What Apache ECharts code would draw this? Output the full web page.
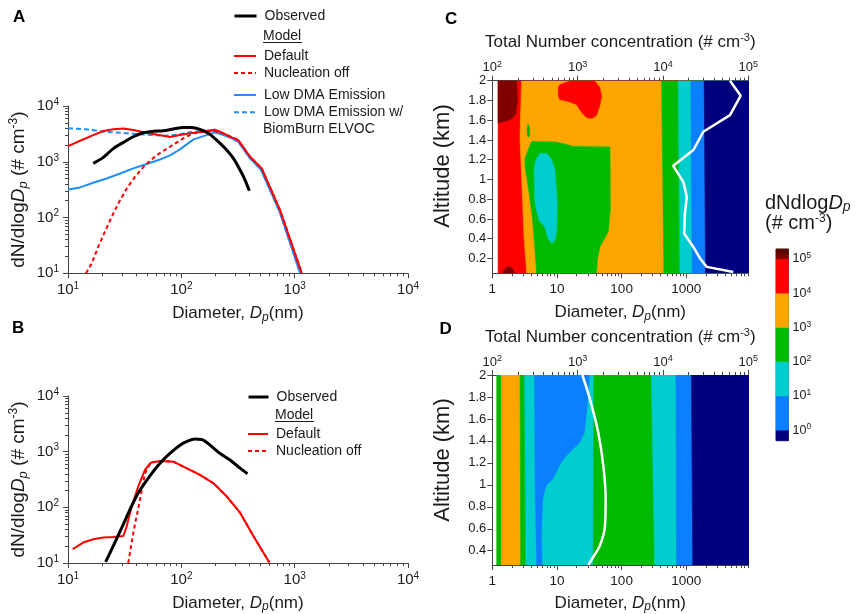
<!DOCTYPE html>
<html><head><meta charset="utf-8">
<script src="https://cdn.jsdelivr.net/npm/echarts@6/dist/echarts.min.js"></script>
<style>html,body{margin:0;padding:0;background:#fff}#c{width:861px;height:614px}</style>
</head><body><div id="c"></div>
<script>
// ---------------- DATA ----------------
// Panel A: [diameter nm, dN/dlogDp]
const A_observed = [[16.7,935],[20.5,1200],[25.1,1720],[30.8,2230],[37.7,2810],[46.2,3320],[56.6,3520],[69.3,3600],[84.9,3870],[104,4100],[123,4100],[146,3820],[173,3240],[205,2450],[243,1740],[288,1150],[330,710],[365,470],[398,302]];
const A_default = [[10,1910],[12.8,2380],[16.7,3010],[20.5,3560],[25.1,3820],[30.8,3950],[37.7,3700],[46.2,3370],[56.6,3140],[69.3,2930],[79.4,2780],[97.3,3010],[119,3230],[146,3410],[173,3600],[198,3750],[235,3240],[279,2740],[318,2450],[404,1230],[512,760],[743,136],[1156,10]];
const A_nucleationOff = [[14.4,10],[16.2,15.1],[18.5,30],[21.2,56],[24.3,103],[27.8,179],[33,333],[39,537],[47.8,871],[60.7,1320],[79.4,1860],[104,2630],[128,3240],[156,3460],[191,3600],[235,3240],[279,2740],[318,2450],[404,1230],[512,760],[743,136],[1156,10]];
const A_lowDMA = [[10,319],[12.8,347],[16.7,420],[21.9,502],[28.8,617],[37.7,760],[49.4,910],[64.8,1100],[79.4,1300],[97.3,1670],[128,2520],[167,3010],[198,3370],[235,3010],[279,2630],[318,2300],[404,1150],[505,720],[740,125],[1117,10]];
const A_lowDMAelvoc = [[10,3980],[14.6,3820],[20.5,3460],[28.8,3320],[40.4,3140],[56.6,3010],[74.3,2930],[91,3050],[119,3370],[156,3600],[191,3600],[235,3150],[279,2630],[318,2300],[404,1150],[505,720],[740,125],[1117,10]];
// Panel B
const B_observed = [[21.5,10.5],[25.1,20.3],[29.8,43],[35.2,91],[41.7,181],[51.1,335],[64.8,620],[79.4,933],[97.3,1310],[115,1560],[132,1680],[151,1660],[179,1310],[219,933],[269,708],[330,505],[383,400]];
const B_default = [[11,17.8],[13.6,23.3],[16.7,26.7],[20.5,28.6],[25.1,29.4],[30.8,30.6],[33,46],[36.5,105],[41.7,237],[47.8,471],[53.7,635],[64.8,681],[84.9,661],[111,505],[146,384],[191,273],[251,158],[330,80],[432,30.6],[598,10.2]];
const B_nucleationOff = [[34,10],[37.7,35],[43.2,138],[47.8,411],[53.7,635],[64.8,681],[84.9,661],[111,505],[146,384],[191,273],[251,158],[330,80],[432,30.6],[598,10.2]];
// Tick label values
const AB_majorTicks = [10, 100, 1000, 10000];
const CD_diamTicks = [1, 10, 100, 1000];
const CD_totalTicks = [100, 1000, 10000, 100000];
const C_altTicks = [0.2,0.4,0.6,0.8,1.0,1.2,1.4,1.6,1.8,2.0];
const D_altTicks = [0.4,0.6,0.8,1.0,1.2,1.4,1.6,1.8,2.0];
const CB_ticks = [1, 10, 100, 1000, 10000, 100000];
// Contour levels: -1 <1, 0: 1-10, 1: 10-100, 2: 1e2-1e3, 3: 1e3-1e4, 4: 1e4-1e5, 5: >1e5
const LEVEL_COLORS = {'-1':'#00007F','0':'#0A80FF','1':'#00CDCD','2':'#00BA00','3':'#FFA500','4':'#FF0000','5':'#800000','6':'#5C0000'};
// Panel C: band left edges [diameter nm, altitude km] (top -> bottom), filled to the right
const C_bandLevels = [4, 3, 2, 1, 0, -1];
const C_bandEdges = [
  [[1.23,2],[1.23,0.05]],
  [[2.84,2],[2.68,1.43],[2.95,0.757],[3.09,0.42],[3.32,0.15],[3.40,0.05]],
  [[415,2],[451,0.05]],
  [[750,2],[796,0.05]],
  [[1178,2],[1233,0.05]],
  [[1892,2],[1986,0.05]]
];
const C_blobLevels = [2, 1, 2, 5, 5, 4];
const C_blobs = [
  [[4.06,1.385],[9.5,1.38],[13,1.36],[18,1.335],[66,1.33],[67,0.7],[62,0.47],[52,0.38],[46,0.317],[42,0.18],[41,0.05],[4.85,0.05],[4.57,0.284],[4.21,0.588],[3.6,0.925],[3.2,1.13],[3.2,1.213],[3.6,1.3]],
  [[5.46,1.264],[6.93,1.264],[8.3,1.2],[9.3,1.095],[10.1,0.757],[9.9,0.487],[9.3,0.385],[8.3,0.352],[7.3,0.403],[6.5,0.52],[5.3,0.588],[4.57,0.757],[4.4,1.095],[4.7,1.196]],
  [[3.55,1.56],[3.75,1.53],[3.8,1.48],[3.7,1.43],[3.5,1.44],[3.45,1.5]],
  [[1.23,2],[2.38,2],[2.45,1.8],[2.3,1.66],[2.0,1.615],[1.6,1.59],[1.23,1.57]],
  [[1.45,0.05],[1.55,0.095],[1.8,0.12],[2.05,0.1],[2.25,0.05]],
  [[10.5,1.93],[11.1,1.96],[14,1.985],[17,2.0],[38,2.0],[46,1.93],[49,1.84],[46,1.75],[41,1.65],[35,1.62],[29,1.625],[24,1.68],[20,1.76],[15,1.79],[11,1.81],[10.5,1.85]]
];
// Panel D
const D_bandLevels = [2, 3, 2, 1, 0, 1, 2, 1, 0, -1];
const D_bandEdges = [
  [[1.17,2],[1.17,0.27]],
  [[1.38,2],[1.38,0.27]],
  [[2.69,2],[2.75,0.27]],
  [[3.15,2],[3.3,0.27]],
  [[4.5,2],[4.6,1.0],[4.75,0.6],[4.85,0.27]],
  [[32.4,2],[30.5,1.774],[27.1,1.474],[22.7,1.383],[14.1,1.263],[11.8,1.203],[8.8,1.052],[6.9,0.992],[6.15,0.872],[5.86,0.571],[6.0,0.27]],
  [[37.3,2],[36.4,0.27]],
  [[288,2],[324,0.27]],
  [[692,2],[708,0.27]],
  [[1202,2],[1259,0.27]]
];
// Total number concentration profiles [# cm-3, altitude km]
const C_total = [[66700,0.064],[32600,0.115],[27200,0.2],[22700,0.317],[17700,0.453],[18100,0.656],[19000,0.824],[17300,0.976],[13200,1.138],[22700,1.298],[29700,1.483],[61000,1.652],[81500,1.848],[61000,2.0]];
const D_total = [[1333,0.27],[1530,0.345],[1830,0.45],[2095,0.631],[2130,0.872],[2000,1.172],[1745,1.474],[1400,1.774],[1135,2.0]];
// Colour bar ranges
const CB_ranges = [[0.49,1],[1,10],[10,100],[100,1000],[1000,10000],[10000,100000],[100000,140000],[140000,195000]];
const CB_levels = [-1, 0, 1, 2, 3, 4, 5, 6];

// ---------------- HELPERS ----------------
const FONT = '"Liberation Sans", Arial, Helvetica, sans-serif';
const INK = '#1a1a1a';
const AX = '#444';
const XMAX = 9100;
function minorVals(lo, hi) { const out = []; for (let d = lo; d < hi; d *= 10) for (let m = 2; m <= 9; m++) { const v = d * m; if (v < hi) out.push(v); } return out; }
const supFmt = v => '10{sup|' + Math.round(Math.log10(v)) + '}';
const supRich = fs => ({ sup: { fontSize: fs, verticalAlign: 'top', lineHeight: fs } });
const titleRich = fs => ({
  i: { fontStyle: 'italic', fontSize: fs, lineHeight: fs + 3 },
  sub: { fontStyle: 'italic', fontSize: Math.round(fs * 0.68), verticalAlign: 'bottom', lineHeight: Math.round(fs * 0.68) },
  sup: { fontSize: Math.round(fs * 0.62), verticalAlign: 'top', lineHeight: Math.round(fs * 0.62) }
});
function majorAxis(o) {
  return Object.assign({
    splitLine: { show: false },
    axisLine: { show: true, lineStyle: { color: AX, width: 1 } },
    axisTick: { show: true, length: 5, customValues: o.ticks, lineStyle: { color: AX } },
    axisLabel: { customValues: o.ticks, formatter: o.fmt, fontSize: o.fs, lineHeight: o.fs + 3, color: INK, margin: o.margin, rich: supRich(Math.round(o.fs * 0.66)), fontFamily: FONT },
    nameLocation: 'middle',
    nameTextStyle: Object.assign({ fontSize: o.nfs, lineHeight: o.nfs + 3, color: INK, fontFamily: FONT, rich: titleRich(o.nfs) }, o.nameStyle || {})
  }, o.base);
}
function minorAxis(base, vals) {
  return Object.assign({
    splitLine: { show: false }, axisLine: { show: false }, axisLabel: { show: false },
    axisTick: { show: true, length: 3, customValues: vals, lineStyle: { color: AX } }
  }, base);
}
function bandPolys(edges) { return edges.map(e => e.concat([[XMAX * 3, e[e.length - 1][1]], [XMAX * 3, e[0][1]]])); }
function contourSeries(polys, levels, xi, yi) {
  return {
    type: 'custom', xAxisIndex: xi, yAxisIndex: yi, clip: true, silent: true,
    data: polys.map(p => [p[0][0], p[0][1]]),
    encode: { x: 0, y: 1 },
    renderItem: function (params, api) {
      const i = params.dataIndex;
      const col = LEVEL_COLORS[String(levels[i])];
      return { type: 'polygon', shape: { points: polys[i].map(p => api.coord(p)) }, style: { fill: col, stroke: col, lineWidth: 0.6 } };
    }
  };
}
const C_polys = bandPolys(C_bandEdges).concat(C_blobs);
const C_levels = C_bandLevels.concat(C_blobLevels);
const D_polys = bandPolys(D_bandEdges);
const D_levels = D_bandLevels;

const lineBase = { type: 'line', symbol: 'none', showSymbol: false, animation: false };
const RED = '#FF0000', BLUE = '#1F8FFF';
const ELVOC = 'Low DMA Emission w/ BiomBurn ELVOC';

const chart = echarts.init(document.getElementById('c'), null, { renderer: 'canvas' });
const diamName = 'Diameter, {i|D}{sub|p}(nm)';
const dndName = 'dN/dlog{i|D}{sub|p} (# cm{sup|-3})';
const totName = 'Total Number concentration (# cm{sup|-3})';
function lg(left, top, w, names, lw, extra) {
  return Object.assign({ left: left, top: top, orient: 'vertical', padding: 0, itemGap: 3, itemWidth: w, itemHeight: 14, selectedMode: false,
    itemStyle: { opacity: 0 }, lineStyle: { width: lw }, data: names, textStyle: { fontSize: 14, color: INK, padding: [0, 0, 0, 3] } }, extra || {});
}

const option = {
  animation: false,
  textStyle: { fontFamily: FONT, color: INK },
  grid: [
    { left: 68, top: 106, width: 340, height: 167.3 },
    { left: 68, top: 396, width: 340, height: 169 },
    { left: 492.3, top: 80.7, width: 256, height: 192.6 },
    { left: 492.3, top: 375, width: 256, height: 191.7 },
    { left: 776, top: 249, width: 12.5, height: 191.7, show: true, borderColor: '#666', borderWidth: 1 }
  ],
  xAxis: [
    majorAxis({ base: { type: 'log', gridIndex: 0, position: 'bottom', min: 10, max: 10000, name: diamName, nameGap: 30 }, ticks: AB_majorTicks, fmt: supFmt, fs: 15, margin: 8, nfs: 17 }),
    minorAxis({ type: 'log', gridIndex: 0, position: 'bottom', min: 10, max: 10000 }, minorVals(10, 10000)),
    majorAxis({ base: { type: 'log', gridIndex: 1, position: 'bottom', min: 10, max: 10000, name: diamName, nameGap: 30 }, ticks: AB_majorTicks, fmt: supFmt, fs: 15, margin: 8, nfs: 17 }),
    minorAxis({ type: 'log', gridIndex: 1, position: 'bottom', min: 10, max: 10000 }, minorVals(10, 10000)),
    majorAxis({ base: { type: 'log', gridIndex: 2, position: 'bottom', min: 1, max: XMAX, name: diamName, nameGap: 29 }, ticks: CD_diamTicks, fmt: v => String(v), fs: 13.5, margin: 8, nfs: 17 }),
    minorAxis({ type: 'log', gridIndex: 2, position: 'bottom', min: 1, max: XMAX }, minorVals(1, XMAX)),
    majorAxis({ base: { type: 'log', gridIndex: 2, position: 'top', min: 100, max: 100000, name: totName, nameGap: 28 }, ticks: CD_totalTicks, fmt: supFmt, fs: 13, margin: 5, nfs: 17 }),
    minorAxis({ type: 'log', gridIndex: 2, position: 'top', min: 100, max: 100000 }, minorVals(100, 100000)),
    majorAxis({ base: { type: 'log', gridIndex: 3, position: 'bottom', min: 1, max: XMAX, name: diamName, nameGap: 28 }, ticks: CD_diamTicks, fmt: v => String(v), fs: 13.5, margin: 8, nfs: 17 }),
    minorAxis({ type: 'log', gridIndex: 3, position: 'bottom', min: 1, max: XMAX }, minorVals(1, XMAX)),
    majorAxis({ base: { type: 'log', gridIndex: 3, position: 'top', min: 100, max: 100000, name: totName, nameGap: 28 }, ticks: CD_totalTicks, fmt: supFmt, fs: 13, margin: 5, nfs: 17 }),
    minorAxis({ type: 'log', gridIndex: 3, position: 'top', min: 100, max: 100000 }, minorVals(100, 100000)),
    { type: 'value', gridIndex: 4, min: 0, max: 1, show: false }
  ],
  yAxis: [
    majorAxis({ base: { type: 'log', gridIndex: 0, position: 'left', min: 10, max: 10000, name: dndName, nameGap: 38 }, ticks: AB_majorTicks, fmt: supFmt, fs: 15, margin: 9, nfs: 19 }),
    minorAxis({ type: 'log', gridIndex: 0, position: 'left', min: 10, max: 10000 }, minorVals(10, 10000)),
    majorAxis({ base: { type: 'log', gridIndex: 1, position: 'left', min: 10, max: 10000, name: dndName, nameGap: 38 }, ticks: AB_majorTicks, fmt: supFmt, fs: 15, margin: 9, nfs: 19 }),
    minorAxis({ type: 'log', gridIndex: 1, position: 'left', min: 10, max: 10000 }, minorVals(10, 10000)),
    majorAxis({ base: { type: 'value', gridIndex: 2, position: 'left', min: 0.05, max: 2, name: 'Altitude (km)', nameGap: 37 }, ticks: C_altTicks, fmt: v => String(+(+v).toFixed(1)), fs: 13, margin: 6, nfs: 22, nameStyle: { padding: [0, 0, 0, 22] } }),
    majorAxis({ base: { type: 'value', gridIndex: 3, position: 'left', min: 0.27, max: 2, name: 'Altitude (km)', nameGap: 37 }, ticks: D_altTicks, fmt: v => String(+(+v).toFixed(1)), fs: 13, margin: 6, nfs: 22, nameStyle: { padding: [0, 0, 0, 20] } }),
    { type: 'log', gridIndex: 4, position: 'right', min: 0.49, max: 195000,
      axisLine: { show: false }, axisTick: { show: false }, splitLine: { show: false },
      axisLabel: { customValues: CB_ticks, formatter: supFmt, fontSize: 12.5, lineHeight: 15, color: INK, margin: 4, rich: supRich(8.5) } }
  ],
  legend: [
    lg(233, 9, 22, ['Observed'], 3),
    lg(233, 49, 22, ['Default', 'Nucleation off'], 2),
    lg(233, 88, 22, ['Low DMA Emission'], 2),
    lg(233, 105.3, 22, [ELVOC], 2, { formatter: () => 'Low DMA Emission w/' }),
    lg(247, 390, 20, ['Observed'], 3),
    lg(247, 427, 20, ['Default', 'Nucleation off'], 2)
  ],
  graphic: [
    { type: 'text', x: 13, y: 17.5, style: { text: 'A', fontSize: 17, fontWeight: 'bold', fill: '#000', verticalAlign: 'middle', fontFamily: FONT } },
    { type: 'text', x: 12, y: 328, style: { text: 'B', fontSize: 17, fontWeight: 'bold', fill: '#000', verticalAlign: 'middle', fontFamily: FONT } },
    { type: 'text', x: 445, y: 19, style: { text: 'C', fontSize: 17, fontWeight: 'bold', fill: '#000', verticalAlign: 'middle', fontFamily: FONT } },
    { type: 'text', x: 439.5, y: 329, style: { text: 'D', fontSize: 17, fontWeight: 'bold', fill: '#000', verticalAlign: 'middle', fontFamily: FONT } },
    { type: 'text', x: 263, y: 36, style: { text: 'Model', fontSize: 14, fill: INK, verticalAlign: 'middle', fontFamily: FONT } },
    { type: 'line', shape: { x1: 263, y1: 42.5, x2: 302, y2: 42.5 }, style: { stroke: INK, lineWidth: 1 } },
    { type: 'text', x: 263, y: 129.3, style: { text: 'BiomBurn ELVOC', fontSize: 14, fill: INK, verticalAlign: 'middle', fontFamily: FONT } },
    { type: 'text', x: 275, y: 415, style: { text: 'Model', fontSize: 14, fill: INK, verticalAlign: 'middle', fontFamily: FONT } },
    { type: 'line', shape: { x1: 275, y1: 421.5, x2: 314, y2: 421.5 }, style: { stroke: INK, lineWidth: 1 } },
    { type: 'text', x: 765, y: 203, style: { text: 'dNdlog{i|D}{sub|p}', fontSize: 20, fill: INK, verticalAlign: 'middle', fontFamily: FONT, rich: titleRich(20) } },
    { type: 'text', x: 765, y: 223, style: { text: '(# cm{sup|-3})', fontSize: 20, fill: INK, verticalAlign: 'middle', fontFamily: FONT, rich: titleRich(20) } }
  ],
  series: [
    Object.assign({}, lineBase, { name: ELVOC, xAxisIndex: 0, yAxisIndex: 0, data: A_lowDMAelvoc, color: BLUE, lineStyle: { color: BLUE, width: 2, type: [5, 3] } }),
    Object.assign({}, lineBase, { name: 'Low DMA Emission', xAxisIndex: 0, yAxisIndex: 0, data: A_lowDMA, color: BLUE, lineStyle: { color: BLUE, width: 2 } }),
    Object.assign({}, lineBase, { name: 'Nucleation off', xAxisIndex: 0, yAxisIndex: 0, data: A_nucleationOff, color: RED, lineStyle: { color: RED, width: 2, type: [4, 3] } }),
    Object.assign({}, lineBase, { name: 'Default', xAxisIndex: 0, yAxisIndex: 0, data: A_default, color: RED, lineStyle: { color: RED, width: 2 } }),
    Object.assign({}, lineBase, { name: 'Observed', xAxisIndex: 0, yAxisIndex: 0, data: A_observed, smooth: 0.3, color: '#000', lineStyle: { color: '#000', width: 3 } }),
    Object.assign({}, lineBase, { name: 'Nucleation off', xAxisIndex: 2, yAxisIndex: 2, data: B_nucleationOff, color: RED, lineStyle: { color: RED, width: 2, type: [4, 3] } }),
    Object.assign({}, lineBase, { name: 'Default', xAxisIndex: 2, yAxisIndex: 2, data: B_default, color: RED, lineStyle: { color: RED, width: 2 } }),
    Object.assign({}, lineBase, { name: 'Observed', xAxisIndex: 2, yAxisIndex: 2, data: B_observed, smooth: 0.3, color: '#000', lineStyle: { color: '#000', width: 3 } }),
    contourSeries(C_polys, C_levels, 4, 4),
    contourSeries(D_polys, D_levels, 8, 5),
    Object.assign({}, lineBase, { name: 'Total (C)', xAxisIndex: 6, yAxisIndex: 4, data: C_total, color: '#fff', lineStyle: { color: '#fff', width: 2.5 }, z: 5 }),
    Object.assign({}, lineBase, { name: 'Total (D)', xAxisIndex: 10, yAxisIndex: 5, data: D_total, smooth: 0.4, color: '#fff', lineStyle: { color: '#fff', width: 2.5 }, z: 5 }),
    {
      type: 'custom', xAxisIndex: 12, yAxisIndex: 6, silent: true,
      data: CB_ranges.map(r => [0.5, r[0]]), encode: { x: 0, y: 1 },
      renderItem: function (params, api) {
        const r = CB_ranges[params.dataIndex];
        const a = api.coord([0, r[0]]), b = api.coord([1, r[1]]);
        const col = LEVEL_COLORS[String(CB_levels[params.dataIndex])];
        return { type: 'rect', shape: { x: a[0], y: b[1], width: b[0] - a[0], height: a[1] - b[1] }, style: { fill: col, stroke: col, lineWidth: 0.5 } };
      }
    }
  ]
};
chart.setOption(option);
</script></body></html>
